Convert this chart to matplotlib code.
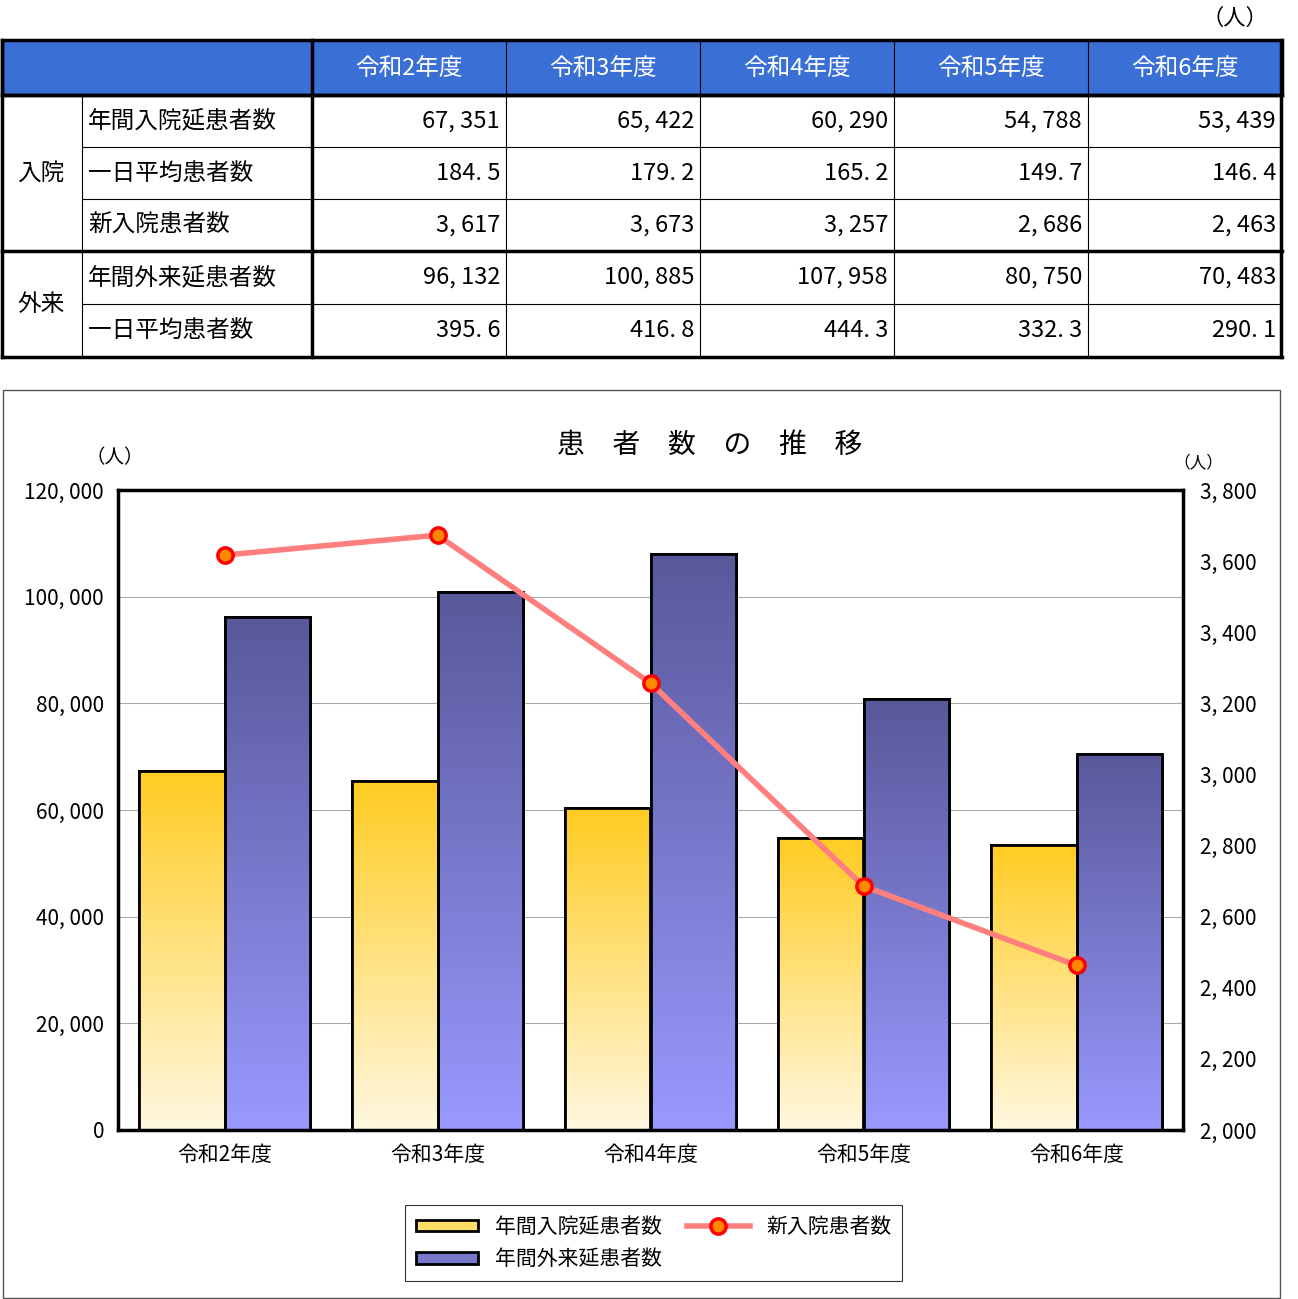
import matplotlib
matplotlib.use("Agg")
import matplotlib.pyplot as plt
import numpy as np
from matplotlib.patches import Rectangle

plt.rcParams["font.family"] = "Noto Sans CJK JP"

years = ["令和2年度", "令和3年度", "令和4年度", "令和5年度", "令和6年度"]
inpatient_total = [67351, 65422, 60290, 54788, 53439]
inpatient_daily = [184.5, 179.2, 165.2, 149.7, 146.4]
new_admissions = [3617, 3673, 3257, 2686, 2463]
outpatient_total = [96132, 100885, 107958, 80750, 70483]
outpatient_daily = [395.6, 416.8, 444.3, 332.3, 290.1]
row_labels = ["年間入院延患者数", "一日平均患者数", "新入院患者数", "年間外来延患者数", "一日平均患者数"]
group_labels = ["入院", "外来"]

W, H = 1298, 1299
fig = plt.figure(figsize=(W/100, H/100), dpi=100)

def fmt_int(v):
    return f"{v:,}".replace(",", ", ")

# ---- table ----
tax = fig.add_axes([0, 0, 1, 1])
tax.set_xlim(0, W); tax.set_ylim(H, 0); tax.axis("off")
cols = [0, 82, 312, 506, 700, 894, 1088, 1282]
rows = [40, 95, 147, 199, 251, 304, 357]
tax.add_patch(Rectangle((2, 40), 1280, 55, facecolor="#3a6fd6", edgecolor="black", lw=2.5))
for i, y in enumerate(years):
    tax.text((cols[i+2]+cols[i+3])/2, 68, y, color="white", ha="center", va="center", fontsize=17)
data_rows = [[fmt_int(v) for v in inpatient_total], [f"{v:.1f}".replace(".", ". ") for v in inpatient_daily],
             [fmt_int(v) for v in new_admissions], [fmt_int(v) for v in outpatient_total],
             [f"{v:.1f}".replace(".", ". ") for v in outpatient_daily]]
for r in range(5):
    yc = (rows[r+1]+rows[r+2])/2
    tax.text(88, yc, row_labels[r], ha="left", va="center", fontsize=17)
    for c in range(5):
        tax.text(cols[c+3]-6, yc, data_rows[r][c], ha="right", va="center", fontsize=17)
tax.text(41, 173, group_labels[0], ha="center", va="center", fontsize=17)
tax.text(41, 304, group_labels[1], ha="center", va="center", fontsize=17)
# grid lines
for y in [147, 199, 304]:
    tax.plot([82, 1282], [y, y], color="black", lw=0.8)
for y in [95, 251, 357]:
    tax.plot([2, 1282], [y, y], color="black", lw=2.5)
for x in cols[3:-1]:
    tax.plot([x, x], [40, 357], color="black", lw=0.8)
tax.plot([82, 82], [95, 357], color="black", lw=0.8)
for x in [2, 312, 1281]:
    tax.plot([x, x], [40, 357], color="black", lw=2.5)
tax.text(1235, 18, "（人）", ha="center", va="center", fontsize=16)
# chart frame
tax.add_patch(Rectangle((3, 390), 1277, 908, facecolor="none", edgecolor="#555555", lw=1))
tax.text(710, 445, "患　者　数　の　推　移", ha="center", va="center", fontsize=20)
tax.text(115, 458, "（人）", ha="center", va="center", fontsize=14)
tax.text(1198, 463, "（人）", ha="center", va="center", fontsize=12)

# ---- chart ----
ax = fig.add_axes([118/W, 1-1130/H, (1183-118)/W, (1130-490)/H])
ax.set_xlim(-0.5, 4.5); ax.set_ylim(0, 120000)
x = np.arange(len(years))
bw = 0.4
grad = np.linspace(0, 1, 256).reshape(-1, 1)
from matplotlib.colors import LinearSegmentedColormap
ycm = LinearSegmentedColormap.from_list("y", ["#fff8e0", "#ffcc22"])
bcm = LinearSegmentedColormap.from_list("b", ["#9999ff", "#58589a"])
b1 = ax.bar(x - bw/2, inpatient_total, bw, facecolor="#ffdd66", edgecolor="black", lw=2, label="年間入院延患者数", zorder=2)
b2 = ax.bar(x + bw/2, outpatient_total, bw, facecolor="#7777cc", edgecolor="black", lw=2, label="年間外来延患者数", zorder=2)
for bars, cm in [(b1, ycm), (b2, bcm)]:
    for b in bars:
        h = b.get_height()
        im = ax.imshow(grad, cmap=cm, origin="lower", aspect="auto",
                       extent=[b.get_x(), b.get_x()+b.get_width(), 0, h], zorder=2.5)
        im.set_clip_path(b)
        ax.add_patch(Rectangle((b.get_x(), 0), b.get_width(), h, facecolor="none", edgecolor="black", lw=2, zorder=3))
ax.set_yticks(np.arange(0, 120001, 20000))
ax.set_yticklabels([fmt_int(v) for v in range(0, 120001, 20000)], fontsize=15)
ax.grid(axis="y", color="#aaaaaa", lw=0.8, zorder=0)
ax.set_axisbelow(True)
ax.set_xticks(x); ax.set_xticklabels(years, fontsize=15)
ax.tick_params(length=0, pad=10)
for s in ax.spines.values():
    s.set_linewidth(2.5)
ax2 = ax.twinx()
ax2.set_ylim(2000, 3800)
ax2.set_yticks(np.arange(2000, 3801, 200))
ax2.set_yticklabels([fmt_int(v) for v in range(2000, 3801, 200)], fontsize=15)
ax2.tick_params(length=0, pad=12)
ln, = ax2.plot(x, new_admissions, color="#ff7f7f", lw=4, marker="o", ms=11,
               mfc="#ff8800", mec="#ff0000", mew=2.5, label="新入院患者数", zorder=5)
for s in ax2.spines.values():
    s.set_visible(False)

leg = fig.legend(handles=[b1, b2, ln], loc="upper left", bbox_to_anchor=(395/W, 1-1195/H),
                 ncol=2, fontsize=15, frameon=True, fancybox=False, edgecolor="black",
                 handlelength=3, handleheight=0.5, columnspacing=1.2, borderpad=0.5)
leg.get_frame().set_linewidth(0.8)

fig.savefig("out.png", dpi=100)
